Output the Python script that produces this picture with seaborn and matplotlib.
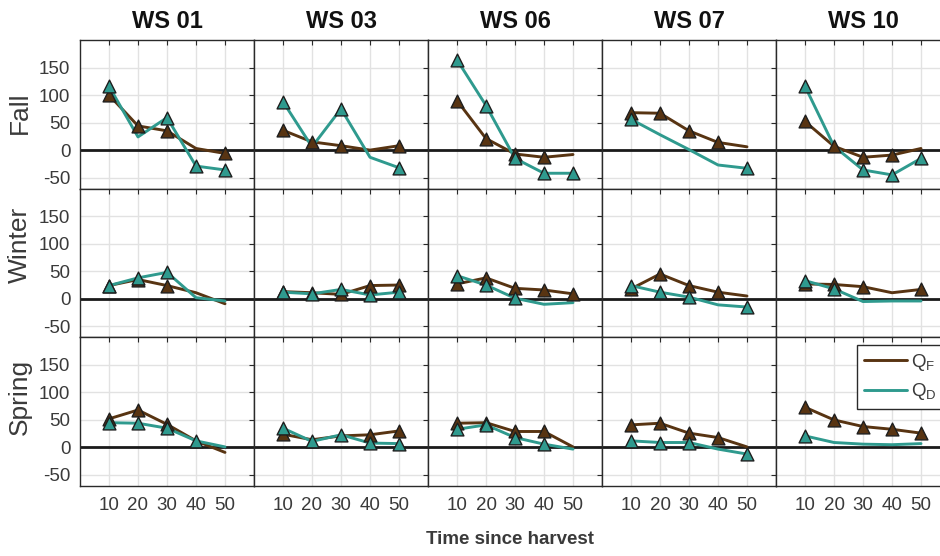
import numpy as np
import pandas as pd
import matplotlib
matplotlib.use("Agg")
import matplotlib.pyplot as plt
from matplotlib.lines import Line2D
import seaborn as sns

# ---------------- data ----------------
times = [10, 20, 30, 40, 50]
sites = ["WS 01", "WS 03", "WS 06", "WS 07", "WS 10"]
seasons = ["Fall", "Winter", "Spring"]

# Q_F values per site (rows: sites) for each season
qf_fall = [[100, 44, 35, 3, -6], [36, 15, 8, 0, 8], [90, 21, -7, -13, -8],
           [68, 67, 35, 14, 6], [52, 7, -13, -9, 3]]
qf_winter = [[24, 35, 24, 11, -9], [13, 11, 8, 24, 25], [27, 38, 19, 16, 9],
             [18, 45, 24, 12, 5], [27, 26, 22, 11, 17]]
qf_spring = [[52, 68, 42, 12, -9], [24, 14, 21, 23, 30], [44, 45, 29, 29, 1],
             [41, 44, 26, 18, 1], [73, 50, 38, 33, 26]]

# Q_D values
qd_fall = [[116, 24, 59, -29, -36], [88, 6, 75, -13, -32], [164, 81, -15, -42, -42],
           [56, 28, 1, -27, -33], [116, 7, -36, -45, -15]]
qd_winter = [[24, 38, 48, 2, -4], [12, 9, 17, 7, 12], [42, 25, 1, -10, -7],
             [24, 12, 3, -11, -15], [33, 18, -5, -4, -4]]
qd_spring = [[45, 44, 35, 12, 1], [35, 11, 23, 8, 7], [33, 41, 18, 6, -3],
             [12, 9, 9, -3, -12], [21, 9, 6, 5, 7]]

# marker flags (1 = point drawn with triangle marker)
qf_fall_mk = [[1, 1, 1, 0, 1], [1, 1, 1, 0, 1], [1, 1, 1, 1, 0], [1, 1, 1, 1, 0], [1, 1, 1, 1, 0]]
qf_winter_mk = [[1, 1, 1, 0, 0], [1, 1, 1, 1, 1], [1, 1, 1, 1, 1], [1, 1, 1, 1, 0], [1, 1, 1, 0, 1]]
qf_spring_mk = [[1, 1, 1, 0, 0], [1, 0, 0, 1, 1], [1, 1, 1, 1, 0], [1, 1, 1, 1, 0], [1, 1, 1, 1, 1]]
qd_fall_mk = [[1, 0, 1, 1, 1], [1, 0, 1, 0, 1], [1, 1, 1, 1, 1], [1, 0, 0, 0, 1], [1, 0, 1, 1, 1]]
qd_winter_mk = [[1, 1, 1, 0, 0], [1, 1, 1, 1, 1], [1, 1, 1, 0, 0], [1, 1, 1, 0, 1], [1, 1, 0, 0, 0]]
qd_spring_mk = [[1, 1, 1, 1, 0], [1, 1, 1, 1, 1], [1, 1, 1, 1, 0], [1, 1, 1, 0, 1], [1, 0, 0, 0, 0]]

yticks = [-50, 0, 50, 100, 150]
xticks = [10, 20, 30, 40, 50]
series_names = ["QF", "QD"]
legend_labels = [r"Q$_\mathrm{F}$", r"Q$_\mathrm{D}$"]

# ---------------- build long table ----------------
qf_all = {"Fall": qf_fall, "Winter": qf_winter, "Spring": qf_spring}
qd_all = {"Fall": qd_fall, "Winter": qd_winter, "Spring": qd_spring}
qf_mk = {"Fall": qf_fall_mk, "Winter": qf_winter_mk, "Spring": qf_spring_mk}
qd_mk = {"Fall": qd_fall_mk, "Winter": qd_winter_mk, "Spring": qd_spring_mk}
rows = []
for season in seasons:
    for si, site in enumerate(sites):
        for ti, t in enumerate(times):
            rows.append(dict(season=season, site=site, time=t, series="QF",
                             value=qf_all[season][si][ti], mk=qf_mk[season][si][ti]))
            rows.append(dict(season=season, site=site, time=t, series="QD",
                             value=qd_all[season][si][ti], mk=qd_mk[season][si][ti]))
df = pd.DataFrame(rows)

# ---------------- style ----------------
sns.set_theme(style="whitegrid")
plt.rcParams["font.family"] = ["Liberation Sans", "DejaVu Sans"]
plt.rcParams["mathtext.fontset"] = "custom"
plt.rcParams["mathtext.rm"] = "Liberation Sans"
plt.rcParams["mathtext.it"] = "Liberation Sans"
plt.rcParams["axes.unicode_minus"] = False

colors = {"QF": "#583412", "QD": "#2f9a8e"}
text_color = "#3a3a3a"
spine_color = "#2a2a2a"

W, H = 940, 556
fig = plt.figure(figsize=(W / 100, H / 100), dpi=100)
axes = fig.subplots(3, 5, sharex=True, sharey=True)
fig.subplots_adjust(left=80 / W, right=950 / W, top=1 - 40 / H, bottom=1 - 486 / H,
                    wspace=0, hspace=0)

for r, season in enumerate(seasons):
    for c, site in enumerate(sites):
        ax = axes[r, c]
        ax.set_facecolor("white")
        ax.axhline(0, color="#1a1a1a", lw=2.0, zorder=1.5)
        sub = df[(df.season == season) & (df.site == site)]
        for s in series_names:
            d = sub[sub.series == s]
            sns.lineplot(data=d, x="time", y="value", ax=ax, color=colors[s],
                         lw=2.1, legend=False, zorder=3, errorbar=None)
            dm = d[d.mk == 1]
            sns.scatterplot(data=dm, x="time", y="value", ax=ax, color=colors[s],
                            marker="^", s=85, edgecolor="#1e1e1e", linewidth=1.0,
                            legend=False, zorder=4)
        ax.set_xlim(0, 60)
        ax.set_ylim(-70, 200)
        ax.set_xticks(xticks)
        ax.set_yticks(yticks)
        ax.grid(True, color="#e2e2e2", lw=1.0)
        ax.set_xlabel("")
        ax.set_ylabel("")
        ax.tick_params(direction="in", top=True, right=True, length=3.5, width=0.8,
                       colors=spine_color, labelsize=13.5, labelcolor=text_color)
        ax.tick_params(axis="y", pad=7)
        ax.tick_params(axis="x", pad=8)
        for sp in ax.spines.values():
            sp.set_color(spine_color)
            sp.set_linewidth(1.0)

for ax in axes[-1, :]:
    ax.tick_params(labelbottom=True)

# column titles
for c, site in enumerate(sites):
    xc = (80 + 174 * (c + 0.5)) / W
    fig.text(xc, 1 - 22 / H, site, ha="center", va="center", fontsize=17,
             fontweight="bold", color="#111111")

# row labels
row_centers = [113, 245, 397]
for r, season in enumerate(seasons):
    fig.text(20 / W, 1 - row_centers[r] / H, season, rotation=90, ha="center",
             va="center", fontsize=19, color=text_color)

fig.text(510 / W, 1 - 540 / H, "Time since harvest", ha="center", va="center",
         fontsize=13.5, fontweight="bold", color=text_color)

# legend
handles = [Line2D([0], [0], color=colors[s], lw=2.1) for s in series_names]
leg = axes[2, 4].legend(handles, legend_labels, loc="upper left",
                        bbox_to_anchor=(0.466, 0.946), borderaxespad=0,
                        fontsize=13.5, frameon=True,
                        fancybox=False, framealpha=1, edgecolor=spine_color,
                        handlelength=2.3, borderpad=0.35, labelspacing=0.45,
                        handletextpad=0.2)
leg.get_frame().set_linewidth(1.0)
for t in leg.get_texts():
    t.set_color(text_color)

fig.savefig("out.png", dpi=100)
